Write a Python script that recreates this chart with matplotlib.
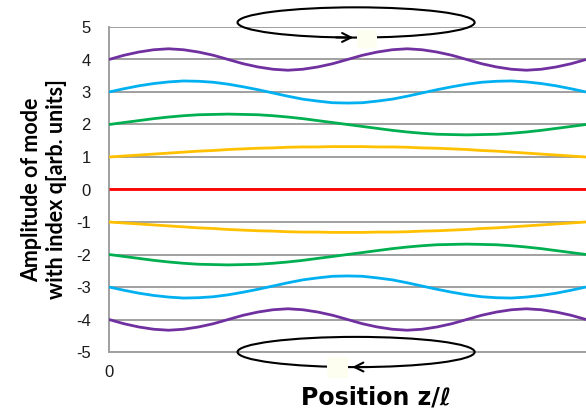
import matplotlib.pyplot as plt
from matplotlib.patches import Ellipse, Rectangle

# positions along the cavity, in units of its length
z = [0.0, 0.03125, 0.0625, 0.09375, 0.125, 0.15625, 0.1875, 0.21875, 0.25,
     0.28125, 0.3125, 0.34375, 0.375, 0.40625, 0.4375, 0.46875, 0.5,
     0.53125, 0.5625, 0.59375, 0.625, 0.65625, 0.6875, 0.71875, 0.75,
     0.78125, 0.8125, 0.84375, 0.875, 0.90625, 0.9375, 0.96875, 1.0]

# mode amplitudes, offset by their index q
mode_p4 = [4.00, 4.13, 4.23, 4.30, 4.33, 4.30, 4.23, 4.13, 4.00, 3.87, 3.77,
           3.70, 3.67, 3.70, 3.77, 3.87, 4.00, 4.13, 4.23, 4.30, 4.33, 4.30,
           4.23, 4.13, 4.00, 3.87, 3.77, 3.70, 3.67, 3.70, 3.77, 3.87, 4.00]
mode_p3 = [3.00, 3.10, 3.19, 3.26, 3.31, 3.34, 3.33, 3.30, 3.24, 3.16, 3.07,
           2.97, 2.87, 2.78, 2.72, 2.67, 2.66, 2.67, 2.72, 2.78, 2.87, 2.97,
           3.07, 3.16, 3.24, 3.30, 3.33, 3.34, 3.31, 3.26, 3.19, 3.10, 3.00]
mode_p2 = [2.00, 2.06, 2.12, 2.18, 2.23, 2.27, 2.30, 2.31, 2.32, 2.31, 2.30,
           2.27, 2.23, 2.18, 2.12, 2.06, 2.00, 1.94, 1.88, 1.82, 1.77, 1.73,
           1.70, 1.69, 1.68, 1.69, 1.70, 1.73, 1.77, 1.82, 1.88, 1.94, 2.00]
mode_p1 = [1.00, 1.03, 1.06, 1.09, 1.12, 1.15, 1.18, 1.20, 1.23, 1.25, 1.27,
           1.28, 1.30, 1.31, 1.31, 1.32, 1.32, 1.32, 1.31, 1.31, 1.30, 1.28,
           1.27, 1.25, 1.23, 1.20, 1.18, 1.15, 1.12, 1.09, 1.06, 1.03, 1.00]
mode_m1 = [-1.00, -1.03, -1.06, -1.09, -1.12, -1.15, -1.18, -1.20, -1.23,
           -1.25, -1.27, -1.28, -1.30, -1.31, -1.31, -1.32, -1.32, -1.32,
           -1.31, -1.31, -1.30, -1.28, -1.27, -1.25, -1.23, -1.20, -1.18,
           -1.15, -1.12, -1.09, -1.06, -1.03, -1.00]
mode_m2 = [-2.00, -2.06, -2.12, -2.18, -2.23, -2.27, -2.30, -2.31, -2.32,
           -2.31, -2.30, -2.27, -2.23, -2.18, -2.12, -2.06, -2.00, -1.94,
           -1.88, -1.82, -1.77, -1.73, -1.70, -1.69, -1.68, -1.69, -1.70,
           -1.73, -1.77, -1.82, -1.88, -1.94, -2.00]
mode_m3 = [-3.00, -3.10, -3.19, -3.26, -3.31, -3.34, -3.33, -3.30, -3.24,
           -3.16, -3.07, -2.97, -2.87, -2.78, -2.72, -2.67, -2.66, -2.67,
           -2.72, -2.78, -2.87, -2.97, -3.07, -3.16, -3.24, -3.30, -3.33,
           -3.34, -3.31, -3.26, -3.19, -3.10, -3.00]
mode_m4 = [-4.00, -4.13, -4.23, -4.30, -4.33, -4.30, -4.23, -4.13, -4.00,
           -3.87, -3.77, -3.70, -3.67, -3.70, -3.77, -3.87, -4.00, -4.13,
           -4.23, -4.30, -4.33, -4.30, -4.23, -4.13, -4.00, -3.87, -3.77,
           -3.70, -3.67, -3.70, -3.77, -3.87, -4.00]
z_zero = [0.0, 1.0]
mode_0 = [0.0, 0.0]

y_ticks = [-5, -4, -3, -2, -1, 0, 1, 2, 3, 4, 5]

purple = '#7030A0'
blue = '#00B0F0'
green = '#00B050'
yellow = '#FFC000'
red = '#FF0000'
grid_gray = '#A0A0A0'

fig = plt.figure(figsize=(5.86, 4.11), dpi=100)
ax = fig.add_axes([109 / 586, 59 / 411, 477 / 586, 325 / 411])

lw = 2.0
for vals, col in [(mode_p4, purple), (mode_p3, blue), (mode_p2, green),
                  (mode_p1, yellow), (mode_m1, yellow), (mode_m2, green),
                  (mode_m3, blue), (mode_m4, purple)]:
    ax.plot(z, vals, color=col, lw=lw, zorder=3, solid_capstyle='butt')
ax.plot(z_zero, mode_0, color=red, lw=lw, zorder=3, solid_capstyle='butt')

ax.set_xlim(0, 1)
ax.set_ylim(-5, 5)
ax.set_yticks(y_ticks)
ax.set_yticklabels([str(t) for t in y_ticks])
ax.set_xticks([0])
ax.set_xticklabels(['0'])
ax.yaxis.grid(True, color=grid_gray, lw=1.4)
ax.set_axisbelow(True)
ax.tick_params(length=0, labelsize=12, colors='#1a1a1a', pad=13)
ax.tick_params(axis='x', pad=9)
for lab in ax.get_xticklabels() + ax.get_yticklabels():
    lab.set_fontfamily('Liberation Sans')

for side in ['top', 'right']:
    ax.spines[side].set_visible(False)
ax.spines['left'].set_color(grid_gray)
ax.spines['bottom'].set_color(grid_gray)
ax.spines['left'].set_linewidth(1.4)
ax.spines['bottom'].set_linewidth(1.4)

ax.set_xlabel('Position z/\u2113', fontsize=17, fontweight='bold',
              family='DejaVu Sans')
ax.xaxis.set_label_coords((376 - 109) / 477, -0.103)
ax.set_ylabel('Amplitude of mode\nwith index q[arb. units]', fontsize=15.5,
              fontweight='bold', family='Lato', linespacing=1.25)
ax.yaxis.set_label_coords(-0.088, 0.5)

# circulation loops at the two ends of the scale
for yc in [5.14, -5.0]:
    ax.add_patch(Ellipse((0.518, yc), 0.497, 0.93, fill=False, ec='black',
                         lw=1.5, clip_on=False, zorder=4))
ax.add_patch(Rectangle((0.520, 4.35), 0.042, 0.56, fc='#FDFDF0', ec='none',
                       clip_on=False, zorder=5))
ax.add_patch(Rectangle((0.457, -5.80), 0.044, 0.65, fc='#FDFDF0', ec='none',
                       clip_on=False, zorder=5))
ax.annotate('', xy=(0.518, 4.675), xytext=(0.47, 4.68),
            arrowprops=dict(arrowstyle='->', lw=1.5, color='black',
                            mutation_scale=16), annotation_clip=False,
            zorder=6)
ax.annotate('', xy=(0.504, -5.465), xytext=(0.55, -5.46),
            arrowprops=dict(arrowstyle='->', lw=1.5, color='black',
                            mutation_scale=16), annotation_clip=False,
            zorder=6)

fig.savefig('out.png', dpi=100)
